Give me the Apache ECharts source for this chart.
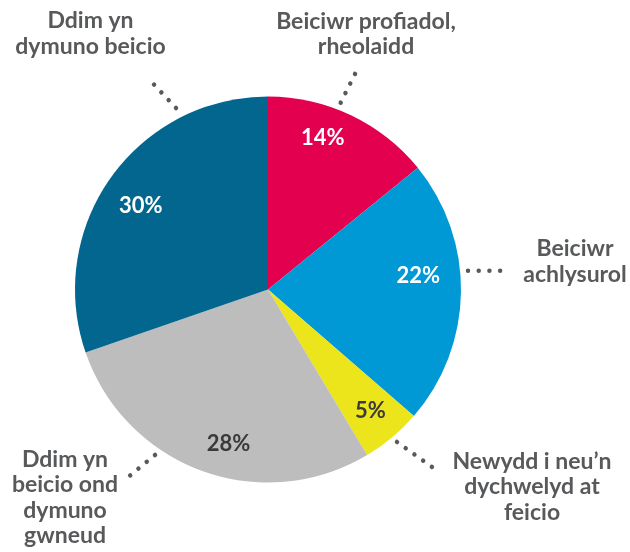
<!DOCTYPE html>
<html>
<head>
<meta charset="utf-8">
<script src="https://cdn.jsdelivr.net/npm/echarts@6/dist/echarts.min.js"></script>
<style>
html,body{margin:0;padding:0;background:#fff;}
#chart{width:630px;height:552px;}
</style>
</head>
<body>
<div id="chart"></div>
<script>
// ---- data ----
const categories = [
  'Beiciwr profiadol,\nrheolaidd',
  'Beiciwr\nachlysurol',
  'Newydd i neu\u2019n\ndychwelyd at\nfeicio',
  'Ddim yn\nbeicio ond\ndymuno\ngwneud',
  'Ddim yn\ndymuno beicio'
];
const values = [14, 22, 5, 28, 30];
const colors = ['#e3004f', '#0099d5', '#ece51c', '#bdbdbd', '#03668f'];
const pctTextColors = ['#ffffff', '#ffffff', '#3a3a3a', '#3a3a3a', '#ffffff'];

// ---- layout (label placement only) ----
const pctPos = [[322.8,137.5],[418.3,275.5],[370.3,411],[228.5,443.5],[140.8,205.5]];
const namePos = [[366,34],[575,261.5],[532,487],[65,497.5],[90.5,33.5]];
const leaders = [
  [[340.7,102.7],[356,72]],
  [[468,270.7],[508,270.7]],
  [[397,442],[432,467]],
  [[155,455],[127,478]],
  [[176,108],[147,77]]
];

const chart = echarts.init(document.getElementById('chart'), null, {renderer:'canvas'});
const FONT = 'Lato';

const mainData = categories.map((c, i) => ({
  name: c, value: values[i],
  itemStyle: {color: colors[i]},
  label: {color: pctTextColors[i]}
}));
const ghostData = categories.map((c, i) => ({name: c, value: values[i]}));

chart.setOption({
  backgroundColor: '#ffffff',
  animation: false,
  series: [
    {
      type: 'pie',
      center: [268, 289.5],
      radius: [0, 193],
      startAngle: 90,
      clockwise: true,
      silent: true,
      avoidLabelOverlap: false,
      itemStyle: {borderWidth: 0},
      label: {
        show: true,
        position: 'inside',
        formatter: p => p.value + '%',
        fontFamily: FONT,
        fontWeight: 'bold',
        fontSize: 22
      },
      labelLine: {show: false},
      labelLayout: p => ({
        x: pctPos[p.dataIndex][0],
        y: pctPos[p.dataIndex][1],
        align: 'center',
        verticalAlign: 'middle'
      }),
      emphasis: {disabled: true},
      data: mainData
    },
    {
      type: 'pie',
      center: [268, 289.5],
      radius: [0, 193],
      startAngle: 90,
      clockwise: true,
      silent: true,
      avoidLabelOverlap: false,
      itemStyle: {color: 'rgba(0,0,0,0)', borderWidth: 0},
      label: {
        show: true,
        position: 'outside',
        formatter: p => p.name,
        color: '#58595b',
        fontFamily: FONT,
        fontWeight: 'bold',
        fontSize: 23,
        lineHeight: 25.5,
        align: 'center'
      },
      labelLine: {
        show: true,
        length: 10,
        length2: 0,
        lineStyle: {color: '#58595b', width: 4.5, type: [0.01, 10.7], cap: 'round'}
      },
      labelLayout: p => ({
        x: namePos[p.dataIndex][0],
        y: namePos[p.dataIndex][1],
        align: 'center',
        verticalAlign: 'middle',
        labelLinePoints: leaders[p.dataIndex]
      }),
      emphasis: {disabled: true},
      data: ghostData
    }
  ]
});
</script>
</body>
</html>
